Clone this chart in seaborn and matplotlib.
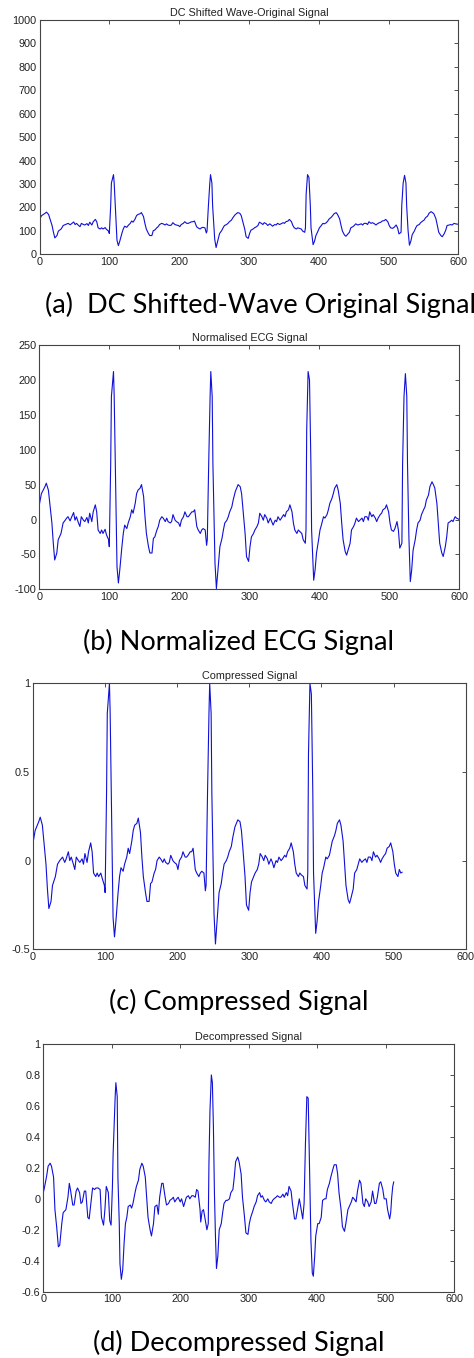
import matplotlib
matplotlib.use("Agg")
import matplotlib.pyplot as plt
import matplotlib.ticker as mticker
import pandas as pd
import seaborn as sns

# sample index shared by the original and normalised traces
SAMPLES = [
    0, 3, 8, 10, 13, 15, 18, 20, 22, 25,
    27, 31, 34, 37, 39, 41, 44, 46, 49, 51,
    53, 56, 58, 60, 63, 65, 68, 70, 72, 75,
    77, 80, 82, 84, 87, 89, 91, 94, 96, 99,
    100, 102, 103, 106, 107, 109, 110, 111, 113, 115,
    118, 120, 122, 125, 127, 130, 132, 134, 137, 139,
    141, 144, 146, 149, 151, 153, 156, 158, 161, 163,
    165, 168, 170, 172, 175, 177, 180, 182, 184, 187,
    189, 191, 194, 196, 199, 201, 203, 206, 208, 211,
    213, 215, 218, 220, 222, 225, 227, 230, 232, 234,
    237, 239, 240, 242, 244, 245, 247, 248, 250, 251,
    253, 256, 258, 261, 263, 265, 268, 270, 272, 275,
    277, 280, 282, 284, 287, 289, 291, 294, 296, 299,
    301, 303, 306, 308, 311, 313, 315, 318, 320, 322,
    325, 327, 330, 332, 334, 337, 339, 341, 344, 346,
    349, 351, 353, 356, 358, 361, 363, 365, 368, 370,
    372, 375, 377, 380, 381, 382, 384, 386, 388, 389,
    391, 392, 394, 396, 399, 401, 403, 406, 408, 411,
    413, 415, 418, 420, 422, 425, 427, 430, 432, 434,
    437, 439, 441, 444, 446, 449, 451, 453, 456, 458,
    461, 463, 465, 468, 470, 472, 475, 477, 480, 482,
    484, 487, 489, 491, 494, 496, 499, 501, 503, 506,
    508, 511, 513, 515, 518, 519, 521, 523, 525, 526,
    528, 530, 532, 534, 537, 539, 541, 544, 546, 549,
    551, 553, 556, 558, 561, 563, 565, 568, 570, 572,
    575, 577, 580, 582, 584, 587, 589, 591, 594, 596,
    600,
]

# (a) DC shifted original signal
ORIGINAL = [
    149, 165, 175, 180, 170, 151, 123, 94, 70, 80,
    99, 108, 123, 127, 130, 132, 126, 131, 138, 127,
    132, 123, 118, 132, 127, 125, 131, 123, 137, 125,
    139, 149, 139, 113, 108, 113, 108, 114, 106, 99,
    89, 208, 304, 340, 304, 180, 113, 60, 37, 56,
    89, 108, 120, 115, 123, 132, 142, 137, 151, 165,
    170, 173, 178, 161, 132, 108, 89, 80, 80, 101,
    103, 113, 118, 127, 132, 130, 125, 130, 125, 123,
    125, 135, 127, 125, 123, 118, 127, 132, 139, 132,
    132, 135, 139, 139, 142, 118, 113, 108, 113, 115,
    113, 91, 99, 208, 304, 340, 304, 208, 113, 65,
    29, 65, 89, 101, 113, 123, 127, 132, 139, 146,
    156, 168, 173, 178, 175, 165, 142, 108, 75, 68,
    89, 103, 108, 113, 118, 123, 137, 132, 127, 135,
    130, 123, 130, 125, 120, 127, 125, 132, 127, 130,
    135, 132, 139, 142, 149, 139, 123, 113, 108, 113,
    111, 108, 99, 94, 113, 256, 340, 328, 208, 113,
    65, 41, 56, 80, 99, 113, 120, 132, 130, 135,
    142, 151, 158, 165, 173, 178, 170, 151, 123, 99,
    82, 77, 84, 94, 113, 118, 123, 130, 125, 127,
    130, 125, 132, 132, 127, 139, 132, 135, 130, 125,
    130, 135, 137, 142, 144, 149, 139, 123, 113, 111,
    115, 125, 113, 87, 94, 208, 304, 337, 304, 208,
    103, 39, 56, 84, 99, 113, 123, 127, 135, 142,
    146, 156, 163, 175, 182, 178, 173, 151, 123, 94,
    80, 75, 89, 103, 123, 125, 127, 125, 132, 130,
    128,
]

# (b) normalised ECG signal
NORMALISED = [
    21, 37, 47, 52, 42, 23, -5, -34, -58, -48,
    -29, -20, -5, -1, 2, 4, -2, 3, 10, -1,
    4, -5, -10, 4, -1, -3, 3, -5, 9, -3,
    11, 21, 11, -15, -20, -15, -20, -14, -22, -29,
    -39, 80, 176, 212, 176, 52, -15, -68, -91, -72,
    -39, -20, -8, -13, -5, 4, 14, 9, 23, 37,
    42, 45, 50, 33, 4, -20, -39, -48, -48, -27,
    -25, -15, -10, -1, 4, 2, -3, 2, -3, -5,
    -3, 7, -1, -3, -5, -10, -1, 4, 11, 4,
    4, 7, 11, 11, 14, -10, -15, -20, -15, -13,
    -15, -37, -29, 80, 176, 212, 176, 80, -15, -63,
    -99, -63, -39, -27, -15, -5, -1, 4, 11, 18,
    28, 40, 45, 50, 47, 37, 14, -20, -53, -60,
    -39, -25, -20, -15, -10, -5, 9, 4, -1, 7,
    2, -5, 2, -3, -8, -1, -3, 4, -1, 2,
    7, 4, 11, 14, 21, 11, -5, -15, -20, -15,
    -17, -20, -29, -34, -15, 128, 212, 200, 80, -15,
    -63, -87, -72, -48, -29, -15, -8, 4, 2, 7,
    14, 23, 30, 37, 45, 50, 42, 23, -5, -29,
    -46, -51, -44, -34, -15, -10, -5, 2, -3, -1,
    2, -3, 4, 4, -1, 11, 4, 7, 2, -3,
    2, 7, 9, 14, 16, 21, 11, -5, -15, -17,
    -13, -3, -15, -41, -34, 80, 176, 209, 176, 80,
    -25, -89, -72, -44, -29, -15, -5, -1, 7, 14,
    18, 28, 35, 47, 54, 50, 45, 23, -5, -34,
    -48, -53, -39, -25, -5, -3, -1, -3, 4, 2,
    0,
]

# (c) compressed signal, 512 samples
COMP_SAMPLES = [
    0, 3, 8, 10, 13, 15, 18, 20, 22, 25,
    27, 31, 34, 37, 39, 41, 44, 46, 49, 51,
    53, 56, 58, 60, 63, 65, 68, 70, 72, 75,
    77, 80, 82, 84, 87, 89, 91, 94, 96, 99,
    100, 102, 103, 106, 107, 109, 110, 111, 113, 115,
    118, 120, 122, 125, 127, 130, 132, 134, 137, 139,
    141, 144, 146, 149, 151, 153, 156, 158, 161, 163,
    165, 168, 170, 172, 175, 177, 180, 182, 184, 187,
    189, 191, 194, 196, 199, 201, 203, 206, 208, 211,
    213, 215, 218, 220, 222, 225, 227, 230, 232, 234,
    237, 239, 240, 242, 244, 245, 247, 248, 250, 251,
    253, 256, 258, 261, 263, 265, 268, 270, 272, 275,
    277, 280, 282, 284, 287, 289, 291, 294, 296, 299,
    301, 303, 306, 308, 311, 313, 315, 318, 320, 322,
    325, 327, 330, 332, 334, 337, 339, 341, 344, 346,
    349, 351, 353, 356, 358, 361, 363, 365, 368, 370,
    372, 375, 377, 380, 381, 382, 384, 386, 388, 389,
    391, 392, 394, 396, 399, 401, 403, 406, 408, 411,
    413, 415, 418, 420, 422, 425, 427, 430, 432, 434,
    437, 439, 441, 444, 446, 449, 451, 453, 456, 458,
    461, 463, 465, 468, 470, 472, 475, 477, 480, 482,
    484, 487, 489, 491, 494, 496, 499, 501, 503, 506,
    508, 510, 512,
]

COMPRESSED = [
    0.10, 0.17, 0.22, 0.245, 0.20, 0.11, -0.02, -0.16, -0.27, -0.23,
    -0.14, -0.09, -0.02, 0.00, 0.01, 0.02, -0.01, 0.01, 0.05, 0.00,
    0.02, -0.02, -0.05, 0.02, 0.00, -0.01, 0.01, -0.02, 0.04, -0.01,
    0.05, 0.10, 0.05, -0.07, -0.09, -0.07, -0.09, -0.07, -0.10, -0.14,
    -0.18, 0.38, 0.83, 1.00, 0.83, 0.25, -0.07, -0.32, -0.43, -0.34,
    -0.18, -0.09, -0.04, -0.06, -0.02, 0.02, 0.07, 0.04, 0.11, 0.17,
    0.20, 0.21, 0.24, 0.16, 0.02, -0.09, -0.18, -0.23, -0.23, -0.13,
    -0.12, -0.07, -0.05, 0.00, 0.02, 0.01, -0.01, 0.01, -0.01, -0.02,
    -0.01, 0.03, 0.00, -0.01, -0.02, -0.05, 0.00, 0.02, 0.05, 0.02,
    0.02, 0.03, 0.05, 0.05, 0.07, -0.05, -0.07, -0.09, -0.07, -0.06,
    -0.07, -0.17, -0.14, 0.38, 0.83, 1.00, 0.83, 0.38, -0.07, -0.30,
    -0.47, -0.30, -0.18, -0.13, -0.07, -0.02, 0.00, 0.02, 0.05, 0.08,
    0.13, 0.19, 0.21, 0.23, 0.22, 0.17, 0.07, -0.09, -0.25, -0.28,
    -0.18, -0.12, -0.09, -0.07, -0.05, -0.02, 0.04, 0.02, 0.00, 0.03,
    0.01, -0.02, 0.01, -0.01, -0.04, 0.00, -0.01, 0.02, 0.00, 0.01,
    0.03, 0.02, 0.05, 0.07, 0.10, 0.05, -0.02, -0.07, -0.09, -0.07,
    -0.08, -0.09, -0.14, -0.16, -0.07, 0.60, 1.00, 0.94, 0.38, -0.07,
    -0.30, -0.41, -0.34, -0.23, -0.14, -0.07, -0.04, 0.02, 0.01, 0.03,
    0.07, 0.11, 0.14, 0.17, 0.21, 0.23, 0.20, 0.11, -0.02, -0.14,
    -0.22, -0.24, -0.21, -0.16, -0.07, -0.05, -0.02, 0.01, -0.01, 0.00,
    0.01, -0.01, 0.02, 0.02, 0.00, 0.05, 0.02, 0.03, 0.01, -0.01,
    0.01, 0.03, 0.04, 0.07, 0.08, 0.10, 0.05, -0.02, -0.07, -0.09,
    -0.05, -0.07, -0.065,
]

# (d) decompressed signal
DECOMP_SAMPLES = [
    0, 2, 5, 7, 10, 12, 15, 17, 19.5, 22,
    24, 27, 29, 33, 36, 38, 40, 43, 45, 48,
    50, 53, 55, 57, 60, 62, 65, 67, 70, 72,
    75, 77, 80, 83, 85, 88, 90, 92, 95, 97,
    99, 101, 102, 105, 106, 108, 109, 111, 112, 114,
    116, 118, 120, 122, 124, 127, 129, 131, 134, 136,
    139, 141, 144, 146, 149, 151, 153, 156, 158, 161,
    163, 166, 168, 170, 173, 175, 178, 180, 183, 185,
    188, 190, 192, 195, 197, 200, 202, 205, 207, 209,
    212, 214, 217, 219, 222, 224, 226, 229, 230, 232,
    234, 236, 239, 241, 242, 243.5, 245.5, 247, 248.5, 250,
    251.5, 253, 255, 257, 260, 262, 264, 267, 269, 272,
    274, 277, 279, 281, 284, 286, 289, 291, 294, 296,
    299, 301, 303, 306, 308, 311, 313, 316, 318, 320,
    323, 325, 328, 330, 333, 335, 337, 340, 342, 345,
    347, 350, 352, 355, 357, 359, 362, 364, 367, 369,
    372, 374, 376, 379, 381, 383, 385, 387, 389, 391,
    393, 394.5, 396.5, 398, 401, 403, 406, 408, 411, 413,
    415, 418, 420, 423, 425, 428, 430, 432, 435, 437,
    440, 442, 445, 447, 450, 452, 454, 457, 459, 462,
    464, 467, 469, 471, 474, 476, 479, 481, 484, 486,
    488, 491, 493, 496, 498, 501, 503, 506, 507.5, 509,
    510.5, 512,
]

DECOMPRESSED = [
    0.04, 0.08, 0.15, 0.21, 0.23, 0.21, 0.14, -0.07, -0.18, -0.31,
    -0.30, -0.16, -0.09, -0.07, 0.01, 0.10, 0.05, -0.04, -0.04, 0.05,
    0.07, 0.04, -0.03, -0.02, 0.05, 0.05, -0.12, -0.13, -0.01, 0.07,
    0.06, 0.07, 0.07, 0.06, -0.12, -0.17, -0.07, 0.08, 0.04, -0.14,
    -0.17, 0.08, 0.29, 0.66, 0.75, 0.66, 0.14, -0.16, -0.42, -0.52,
    -0.46, -0.29, -0.16, -0.12, -0.05, -0.04, -0.06, -0.03, 0.04, 0.08,
    0.12, 0.19, 0.23, 0.21, 0.14, 0.01, -0.12, -0.20, -0.24, -0.16,
    -0.05, -0.04, -0.10, 0.01, 0.10, 0.10, 0.01, -0.04, -0.03, -0.01,
    0.00, 0.01, -0.02, 0.00, 0.01, -0.02, 0.00, -0.05, -0.02, 0.01,
    0.02, 0.00, 0.02, 0.02, 0.01, 0.06, 0.05, -0.07, -0.15, -0.08,
    -0.07, -0.12, -0.20, -0.16, 0.23, 0.57, 0.80, 0.75, 0.47, 0.04,
    -0.24, -0.45, -0.37, -0.20, -0.16, -0.09, -0.03, -0.01, -0.01, 0.00,
    0.04, 0.06, 0.14, 0.24, 0.27, 0.24, 0.16, 0.01, -0.12, -0.22,
    -0.23, -0.16, -0.12, -0.08, -0.05, -0.02, 0.02, 0.04, 0.01, 0.02,
    -0.01, -0.02, 0.00, -0.02, -0.03, -0.01, 0.00, 0.01, 0.02, 0.01,
    0.01, 0.03, 0.01, 0.04, 0.02, 0.08, 0.05, -0.03, -0.13, -0.13,
    -0.05, 0.00, -0.05, -0.13, -0.03, 0.36, 0.66, 0.65, 0.19, -0.27,
    -0.48, -0.50, -0.37, -0.24, -0.16, -0.16, -0.12, -0.01, 0.00, 0.00,
    0.06, 0.10, 0.14, 0.19, 0.22, 0.22, 0.16, 0.04, -0.07, -0.18,
    -0.21, -0.16, -0.07, -0.05, -0.02, 0.01, 0.00, -0.02, 0.05, 0.12,
    0.10, -0.03, -0.05, 0.00, -0.02, -0.05, -0.02, 0.05, -0.03, -0.03,
    0.01, 0.10, 0.11, 0.06, 0.00, 0.00, -0.07, -0.13, -0.09, 0.01,
    0.08, 0.11,
]

TITLES = [
    "DC Shifted Wave-Original Signal",
    "Normalised ECG Signal",
    "Compressed Signal",
    "Decompressed Signal",
]
CAPTIONS = [
    "(a)  DC Shifted-Wave Original Signal",
    "(b) Normalized ECG Signal",
    "(c) Compressed Signal",
    "(d) Decompressed Signal",
]
X_TICKS = [0, 100, 200, 300, 400, 500, 600]
Y_TICKS = [
    [0, 100, 200, 300, 400, 500, 600, 700, 800, 900, 1000],
    [-100, -50, 0, 50, 100, 150, 200, 250],
    [-0.5, 0, 0.5, 1],
    [-0.6, -0.4, -0.2, 0, 0.2, 0.4, 0.6, 0.8, 1],
]

W, H = 474, 1358

# axes boxes in pixels: left, top, right, bottom
BOXES = [
    (39.5, 20, 458.3, 254.3),
    (39.3, 345, 459.3, 589.3),
    (33, 683.3, 465.7, 949.3),
    (43.3, 1044, 454, 1291.7),
]
# caption anchor (x px, y px, horizontal alignment)
CAPTION_POS = [
    (45, 305, "left"),
    (239, 642, "center"),
    (239, 1002, "center"),
    (239, 1343, "center"),
]

sns.set_theme(style="white")
plt.rcParams["font.family"] = ["Liberation Sans", "DejaVu Sans"]
plt.rcParams["axes.unicode_minus"] = False

frames = [
    pd.DataFrame({"sample": SAMPLES, "value": ORIGINAL}),
    pd.DataFrame({"sample": SAMPLES, "value": NORMALISED}),
    pd.DataFrame({"sample": COMP_SAMPLES, "value": COMPRESSED}),
    pd.DataFrame({"sample": DECOMP_SAMPLES, "value": DECOMPRESSED}),
]

fig = plt.figure(figsize=(W / 100, H / 100), dpi=100)
fig.patch.set_facecolor("white")

for i, df in enumerate(frames):
    l, t, r, b = BOXES[i]
    ax = fig.add_axes([l / W, 1 - b / H, (r - l) / W, (b - t) / H])
    sns.lineplot(data=df, x="sample", y="value", ax=ax, color="#1010d8",
                 linewidth=0.8, estimator=None, sort=False)
    ax.set_xlim(0, 600)
    ax.set_ylim(Y_TICKS[i][0], Y_TICKS[i][-1])
    ax.set_xticks(X_TICKS)
    ax.set_yticks(Y_TICKS[i])
    ax.xaxis.set_major_formatter(mticker.FuncFormatter(lambda v, p: "%g" % v))
    ax.yaxis.set_major_formatter(mticker.FuncFormatter(lambda v, p: "%g" % round(v, 3)))
    ax.tick_params(direction="in", length=3, width=0.6, colors="#333333",
                   labelsize=7.8, labelcolor="#222222", pad=2,
                   top=True, right=True)
    for s in ax.spines.values():
        s.set_color("#444444")
        s.set_linewidth(0.8)
        s.set_visible(True)
    ax.set_xlabel("")
    ax.set_ylabel("")
    ax.set_title(TITLES[i], fontsize=7.8, color="#222222", pad=3)

    cx, cy, ha = CAPTION_POS[i]
    fig.text(cx / W, 1 - cy / H, CAPTIONS[i], ha=ha, va="center",
             fontsize=19.5, family=["Lato", "DejaVu Sans"], color="black")

fig.savefig("out.png", dpi=100, facecolor="white")
